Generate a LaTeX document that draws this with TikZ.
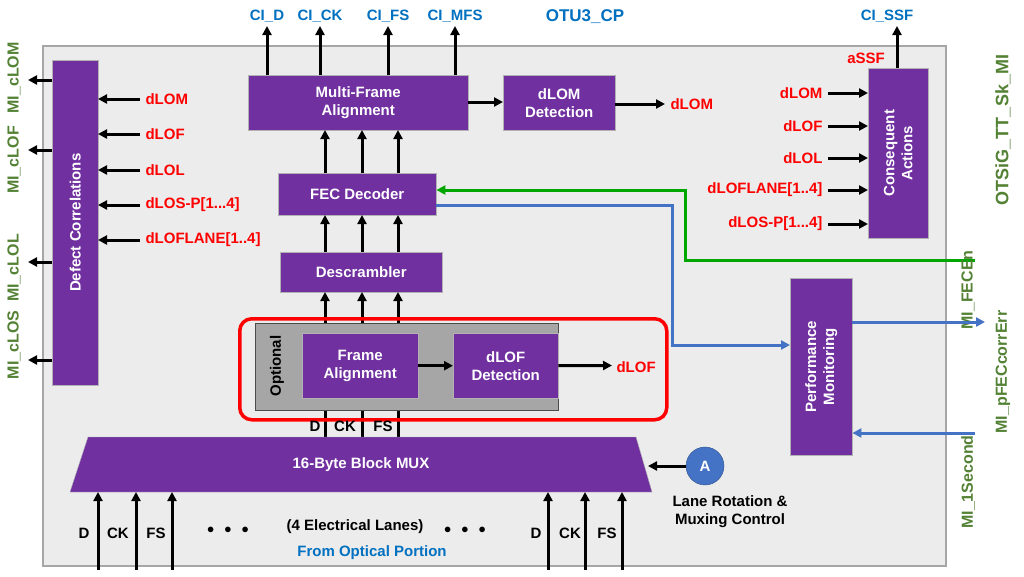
\documentclass[tikz,border=0pt]{standalone}
\usepackage{fontspec}
\setmainfont{Liberation Sans}
\usetikzlibrary{arrows.meta}
\definecolor{pur}{HTML}{7030A0}
\definecolor{grn}{HTML}{548235}
\definecolor{blu}{HTML}{0070C0}
\definecolor{lblu}{HTML}{4472C4}
\begin{document}
\begin{tikzpicture}[x=1pt,y=-1pt,
 box/.style={draw=gray!60,fill=pur,text=white,font=\bfseries\fontsize{15}{18}\selectfont,align=center,inner sep=0},
 tip/.style={-{Triangle[length=9pt,width=9pt]},line width=3pt},
 ar/.style={tip,black},
 rl/.style={text=red,font=\bfseries\fontsize{15}{18}\selectfont},
 bl/.style={text=blu,font=\bfseries\fontsize{15}{18}\selectfont},
 gl/.style={text=grn,font=\bfseries\fontsize{16}{18}\selectfont,rotate=90},
 kl/.style={font=\bfseries\fontsize{15}{18}\selectfont}]
\useasboundingbox (0,0) rectangle (1024,576);
\fill[white] (0,0) rectangle (1024,576);
\node[draw=gray!70,line width=1.5pt,fill=gray!15,minimum width=903pt,minimum height=520pt,anchor=north west] (main) at (42,45) {};
% defect correlations
\node[box,minimum width=46pt,minimum height=325pt,anchor=north west] (dc) at (52,60) {};
\node[text=white,font=\bfseries\fontsize{15}{18}\selectfont,rotate=90] at (dc.center) {Defect Correlations};
\foreach \y [count=\i] in {99,134,170,205,240}{
 \coordinate (li\i) at (140,\y); \coordinate (le\i) at (98,\y);
 \draw[ar] (li\i) -- (le\i);}
\node[rl,anchor=west] at (142,99) {dLOM};
\node[rl,anchor=west] at (142,134) {dLOF};
\node[rl,anchor=west] at (142,170) {dLOL};
\node[rl,anchor=west] at (142,205) {dLOS-P[1...4]};
\node[rl,anchor=west] at (142,240) {dLOFLANE[1..4]};
\foreach \y [count=\i] in {80,150,262,360}{
 \coordinate (lo\i) at (52,\y); \coordinate (lp\i) at (28,\y);
 \draw[ar] (lo\i) -- (lp\i);}
\node[gl] at (14,78) {MI\_cLOM};
\node[gl] at (14,160) {MI\_cLOF};
\node[gl] at (14,268) {MI\_cLOL};
\node[gl] at (14,345) {MI\_cLOS};
% MFA
\node[box,minimum width=220pt,minimum height=55pt,anchor=north west] (mfa) at (248,75) {Multi-Frame\\Alignment};
\foreach \x/\t in {267/CI\_D,320/CI\_CK,388/CI\_FS,455/CI\_MFS}{
 \coordinate (c\x) at (\x,75); \coordinate (t\x) at (\x,26);
 \draw[ar] (c\x) -- (t\x);
 \node[bl] at (\x,16) {\t};}
\node[bl,font=\bfseries\fontsize{17}{20}\selectfont] at (585,17) {OTU3\_CP};
\node[box,minimum width=112pt,minimum height=55pt,anchor=north west] (dlom) at (503,75) {dLOM\\Detection};
\draw[ar] (mfa.east |- 0,102) -- (dlom.west |- 0,102);
\coordinate (dlo) at (665,104);
\draw[ar] (dlom.east |- dlo) -- (dlo);
\node[rl,anchor=west] at (667,104) {dLOM};
% FEC, descr
\node[box,minimum width=158pt,minimum height=42pt,anchor=north west] (fec) at (278,173) {FEC Decoder};
\node[box,minimum width=162pt,minimum height=40pt,anchor=north west] (des) at (280,252) {Descrambler};
\foreach \x in {325,362,398}{
 \draw[ar] (\x,173) -- (\x,130);
 \draw[ar] (\x,252) -- (\x,215);
 \draw[ar] (\x,333) -- (\x,292);
 \draw[ar] (\x,437) -- (\x,398);}
% optional
\node[draw=red,line width=3.5pt,rounded corners=12pt,minimum width=427pt,minimum height=101pt,anchor=north west] (opt) at (238,317) {};
\node[draw=black!70,fill=gray!70,minimum width=303pt,minimum height=87pt,anchor=north west] (og) at (255,323) {};
\node[kl,rotate=90] at (277,366) {Optional};
\node[box,minimum width=116pt,minimum height=65pt,anchor=north west] (fa) at (302,333) {Frame\\Alignment};
\node[box,minimum width=105pt,minimum height=65pt,anchor=north west] (dlof) at (453,333) {dLOF\\Detection};
\draw[ar] (fa.east) -- (dlof.west);
\coordinate (dlfo) at (612,365.5);
\draw[ar] (dlof.east) -- (dlfo);
\node[rl,anchor=west] at (613,367) {dLOF};
\node[kl] at (315,426) {D}; \node[kl] at (345,426) {CK}; \node[kl] at (383,426) {FS};
% MUX
\fill[pur,draw=gray!60] (88,437) -- (636,437) -- (652,492) -- (70,492) -- cycle;
\node[text=white,font=\bfseries\fontsize{15}{18}\selectfont] (mux) at (361,465) {16-Byte Block MUX};
\node[circle,draw=lblu!70!black,fill=lblu,minimum size=38pt,inner sep=0,text=white,kl] (A) at (705,466) {A};
\coordinate (me) at (648,466);
\draw[ar] (A) -- (me);
\node[kl,align=center] at (730,512) {Lane Rotation \&\\Muxing Control};
\foreach \x/\t/\lx in {98/D/84,136/CK/118,172/FS/156,548/D/536,585/CK/570,622/FS/607}{
 \draw[ar] (\x,570) -- (\x,492);
 \node[kl] at (\lx,533) {\t};}
\node[kl] at (228,530) {$\bullet$\hspace{10pt}$\bullet$\hspace{10pt}$\bullet$};
\node[kl] at (465,530) {$\bullet$\hspace{10pt}$\bullet$\hspace{10pt}$\bullet$};
\node[kl] at (355,527) {(4 Electrical Lanes)};
\node[bl] at (372,553) {From Optical Portion};
% consequent actions
\node[box,minimum width=60pt,minimum height=170pt,anchor=north west] (ca) at (868,68) {};
\node[text=white,font=\bfseries\fontsize{15}{18}\selectfont,rotate=90,align=center] at (ca.center) {Consequent\\Actions};
\coordinate (ssf) at (897,26);
\draw[ar] (897,68) -- (ssf);
\node[bl] at (887,16) {CI\_SSF};
\node[rl] at (866,58) {aSSF};
\foreach \y in {93,126,158,190,224}{
 \draw[ar] (828,\y) -- (868,\y);}
\node[rl,anchor=east] at (826,93) {dLOM};
\node[rl,anchor=east] at (826,126) {dLOF};
\node[rl,anchor=east] at (826,158) {dLOL};
\node[rl,anchor=east] at (826,190) {dLOFLANE[1..4]};
\node[rl,anchor=east] at (826,224) {dLOS-P[1...4]};
\node[gl,font=\bfseries\fontsize{18}{20}\selectfont] at (1003,130) {OTSiG\_TT\_Sk\_MI};
% green line
\coordinate (gs) at (975,260);
\draw[tip,green!65!black] (gs) -- (685,260) -- (685,190) -- (fec.east |- 0,190);
\node[gl] at (968,290) {MI\_FECEn};
% PM
\node[box,minimum width=62pt,minimum height=177pt,anchor=north west] (pm) at (790,278) {};
\node[text=white,font=\bfseries\fontsize{15}{18}\selectfont,rotate=90,align=center] at (pm.center) {Performance\\Monitoring};
\draw[tip,lblu] (fec.east |- 0,205) -- (672,205) -- (672,345) -- (pm.west |- 0,345);
\coordinate (po) at (985,322);
\draw[tip,lblu] (pm.east |- po) -- (po);
\node[gl] at (1003,372) {MI\_pFECcorrErr};
\coordinate (pi) at (975,433);
\draw[tip,lblu] (pi) -- (pm.east |- pi);
\node[gl] at (968,482) {MI\_1Second};
\end{tikzpicture}
\end{document}
